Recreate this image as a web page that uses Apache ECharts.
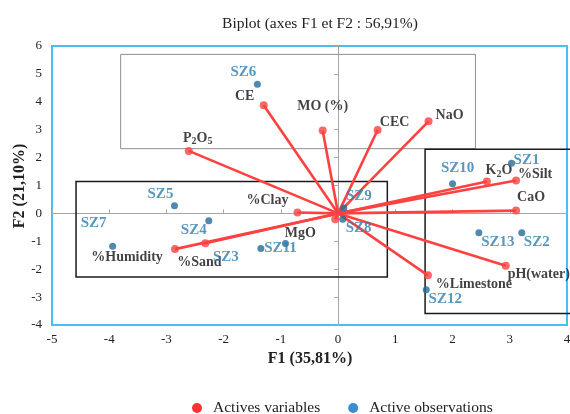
<!DOCTYPE html>
<html>
<head>
<meta charset="utf-8">
<script src="https://cdn.jsdelivr.net/npm/echarts@6/dist/echarts.min.js"></script>
<style>html,body{margin:0;padding:0;background:#fff}#c{width:570px;height:414px}</style>
</head>
<body>
<div id="c"></div>
<script>
// ---- data ----
const varNames = ['CE','MO (%)','P2O5','CEC','NaO','K2O','%Silt','CaO','pH(water)','%Limestone','%Clay','MgO','%Humidity','%Sand'];
const varX = [-1.30,-0.27,-2.61,0.69,1.58,2.60,3.11,3.11,2.93,1.57,-0.71,-0.05,-2.85,-2.32];
const varY = [3.88,2.97,2.24,2.99,3.30,1.14,1.18,0.10,-1.88,-2.22,0.03,-0.21,-1.28,-1.07];

const obsNames = ['SZ1','SZ2','SZ3','SZ4','SZ5','SZ6','SZ7','SZ8','SZ9','SZ10','SZ11','SZ12','SZ13'];
const obsX = [3.03,3.21,-1.35,-2.26,-2.86,-1.41,-3.94,0.08,0.10,2.00,-0.92,1.54,2.46];
const obsY = [1.80,-0.69,-1.26,-0.26,0.27,4.63,-1.18,-0.21,0.19,1.06,-1.08,-2.74,-0.69];

// zone boxes (data extents)
const boxX0 = [-3.80,-4.58,1.52];
const boxX1 = [2.40,0.86,4.10];
const boxY0 = [2.32,-2.28,-3.59];
const boxY1 = [5.70,1.14,2.30];

const xTicks = {min:-5, max:4, interval:1};
const yTicks = {min:-4, max:6, interval:1};

const legendNames = ['Actives variables','Active observations'];
const xName = 'F1 (35,81%)';
const yName = 'F2 (21,10%)';

// ---- style (label offsets in px, separate from data) ----
const varLabelOffset = {
  'CE':[-19,-9],'MO (%)':[0,-24],'P2O5':[9,-13],'CEC':[17,-8],'NaO':[21,-6],'K2O':[12,-11],
  '%Silt':[19,-6],'CaO':[15,-13],'pH(water)':[33,9],'%Limestone':[46,9],'%Clay':[-30,-12],
  'MgO':[-35,14],'%Humidity':[-48,8],'%Sand':[-6,19]
};
const obsLabelOffset = {
  'SZ1':[15,-3],'SZ2':[15,9],'SZ3':[-35,9],'SZ4':[-15,9],'SZ5':[-14,-12],'SZ6':[-14,-12],
  'SZ7':[-19,-23],'SZ8':[16,9],'SZ9':[15,-12],'SZ10':[5,-16],'SZ11':[-5,5],'SZ12':[19,9],'SZ13':[19,9]
};
const boxColors = ['#8f8f8f','#1a1a1a','#1a1a1a'];
const boxWidths = [1,1.5,1.5];

const SERIF = "'Liberation Serif','Times New Roman',serif";
const RED = '#ff4141';
const BLUE_DOT = '#236c98';
const BLUE_TXT = '#2f7dab';

function fmtVar(name){ return name.replace(/(\d)/g, '{sub|$1}'); }

const varData = varNames.map((n,i)=>({name:n, value:[varX[i],varY[i]]}));
const obsData = obsNames.map((n,i)=>({name:n, value:[obsX[i],obsY[i]]}));
const lineData = varNames.map((n,i)=>({coords:[[0,0],[varX[i],varY[i]]]}));
const boxData = boxX0.map((v,i)=>[boxX0[i],boxY0[i],boxX1[i],boxY1[i]]);

const chart = echarts.init(document.getElementById('c'));
const axisGray = '#a6a6a6';
chart.setOption({
  animation:false,
  backgroundColor:'#fff',
  title:{
    text:'Biplot (axes F1 et F2 : 56,91%)', left:315, top:11, textAlign:'center',
    textStyle:{fontFamily:SERIF, fontSize:15.5, fontWeight:'normal', color:'#222'}
  },
  graphic:[
    {type:'text', x:20, y:186, rotation:Math.PI/2,
     style:{text:yName, align:'center', verticalAlign:'middle', fill:'#222',
            font:"bold 16px 'Liberation Serif','Times New Roman',serif"}},
    {type:'text', x:310, y:359,
     style:{text:xName, align:'center', verticalAlign:'middle', fill:'#222',
            font:"bold 16px 'Liberation Serif','Times New Roman',serif"}}
  ],
  legend:{
    data:[
      {name:legendNames[0], itemStyle:{color:'#ff0000'}},
      {name:legendNames[1], itemStyle:{color:'#0a70c8'}}
    ],
    icon:'circle', itemWidth:10, itemHeight:10, itemGap:28,
    left:187, top:395,
    textStyle:{fontFamily:SERIF, fontSize:15.5, color:'#222', padding:[0,0,0,6]}
  },
  grid:{left:52, right:3, top:46, bottom:89, show:true, borderColor:'#45c0f0', borderWidth:2,
        containLabel:false, outerBoundsMode:'none'},
  xAxis:[
    {type:'value', min:xTicks.min, max:xTicks.max, interval:xTicks.interval, position:'bottom',
     axisLine:{show:false}, axisTick:{show:false}, splitLine:{show:false},
     axisLabel:{fontFamily:SERIF, fontSize:13, color:'#222', margin:8}},
    {type:'value', min:xTicks.min, max:xTicks.max, interval:xTicks.interval,
     axisLine:{show:true, onZero:true, onZeroAxisIndex:0, lineStyle:{color:axisGray, width:1}},
     axisTick:{show:true, length:4, inside:false, lineStyle:{color:axisGray}},
     axisLabel:{show:false}, splitLine:{show:false}}
  ],
  yAxis:[
    {type:'value', min:yTicks.min, max:yTicks.max, interval:yTicks.interval, position:'left',
     axisLine:{show:false}, axisTick:{show:false}, splitLine:{show:false},
     axisLabel:{fontFamily:SERIF, fontSize:13, color:'#222', margin:10}},
    {type:'value', min:yTicks.min, max:yTicks.max, interval:yTicks.interval,
     axisLine:{show:true, onZero:true, onZeroAxisIndex:0, lineStyle:{color:axisGray, width:1}},
     axisTick:{show:true, length:4, inside:true, lineStyle:{color:axisGray}},
     axisLabel:{show:false}, splitLine:{show:false}}
  ],
  series:[
    {type:'custom', name:'boxes', xAxisIndex:0, yAxisIndex:0, clip:false, silent:true, z:1,
     data:boxData,
     renderItem:function(params, api){
       const p0 = api.coord([api.value(0), api.value(3)]);
       const p1 = api.coord([api.value(2), api.value(1)]);
       const i = params.dataIndex;
       return {type:'rect', shape:{x:p0[0], y:p0[1], width:p1[0]-p0[0], height:p1[1]-p0[1]},
               style:{fill:null, stroke:boxColors[i], lineWidth:boxWidths[i]}};
     }},
    {type:'lines', coordinateSystem:'cartesian2d', xAxisIndex:0, yAxisIndex:0, silent:true, z:3,
     data:lineData, lineStyle:{color:RED, width:2.6, opacity:1}},
    {type:'scatter', name:legendNames[0], xAxisIndex:0, yAxisIndex:0, z:4,
     data:varData, symbol:'circle', symbolSize:8, itemStyle:{color:RED},
     label:{show:true, position:'inside', formatter:p=>fmtVar(p.name),
       fontFamily:SERIF, fontSize:14, fontWeight:'bold', color:'#111',
       rich:{sub:{fontFamily:SERIF, fontSize:10, fontWeight:'bold', color:'#111', verticalAlign:'bottom', padding:[7,0,0,0]}}},
     labelLayout:function(p){ const o = varLabelOffset[varNames[p.dataIndex]]; return {dx:o[0], dy:o[1], hideOverlap:false}; }},
    {type:'scatter', name:legendNames[1], xAxisIndex:0, yAxisIndex:0, z:5,
     data:obsData, symbol:'circle', symbolSize:7, itemStyle:{color:BLUE_DOT},
     label:{show:true, position:'inside', formatter:p=>p.name,
       fontFamily:SERIF, fontSize:15, fontWeight:'bold', color:BLUE_TXT},
     labelLayout:function(p){ const o = obsLabelOffset[obsNames[p.dataIndex]]; return {dx:o[0], dy:o[1], hideOverlap:false}; }}
  ]
});
</script>
</body>
</html>
